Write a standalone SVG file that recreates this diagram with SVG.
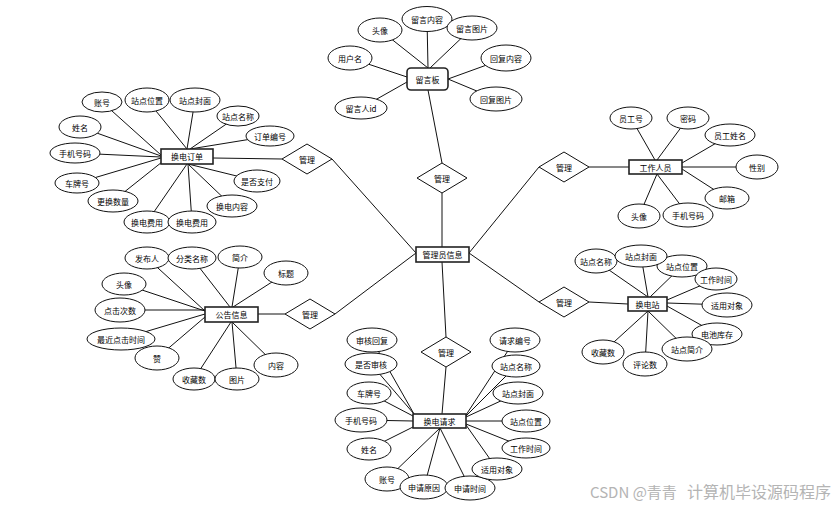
<svg xmlns="http://www.w3.org/2000/svg" width="840" height="509" viewBox="0 0 840 509">
<style>
.bg{fill:#fff}
.ln{stroke:#111;stroke-width:1;fill:none}
.e{fill:#fff;stroke:#111;stroke-width:1}
.b{fill:#fff;stroke:#222;stroke-width:1.6}
.d{fill:#fff;stroke:#111;stroke-width:1}
text{font-family:"Noto Sans CJK SC","Noto Sans",sans-serif;font-size:8px;fill:#000;text-anchor:middle;dominant-baseline:central}
.wm{font-size:15px;fill:#b4b4b4;text-anchor:start;dominant-baseline:auto}
</style>
<rect class="bg" x="0" y="0" width="840" height="509"/>
<g id="connectors" class="ln">
<line x1="442" y1="247" x2="442" y2="193"/>
<line x1="442" y1="163" x2="428" y2="90"/>
<line x1="416" y1="253" x2="332" y2="159"/>
<line x1="282" y1="159" x2="213" y2="158"/>
<line x1="469" y1="253" x2="539" y2="167"/>
<line x1="589" y1="167" x2="629" y2="167"/>
<line x1="416" y1="253" x2="335" y2="314"/>
<line x1="285" y1="314" x2="258" y2="314"/>
<line x1="469" y1="253" x2="539" y2="302"/>
<line x1="589" y1="302" x2="628" y2="304"/>
<line x1="442" y1="262" x2="446" y2="337"/>
<line x1="446" y1="367" x2="442" y2="414"/>
<line x1="380" y1="30" x2="428" y2="68"/>
<line x1="427" y1="19" x2="428" y2="68"/>
<line x1="472" y1="28" x2="430" y2="68"/>
<line x1="350" y1="58" x2="407" y2="77"/>
<line x1="361" y1="108" x2="407" y2="82"/>
<line x1="506" y1="58" x2="448" y2="79"/>
<line x1="496" y1="99" x2="448" y2="79"/>
<line x1="102" y1="102" x2="161" y2="155"/>
<line x1="147" y1="100" x2="187" y2="149"/>
<line x1="195" y1="100" x2="187" y2="149"/>
<line x1="238" y1="116" x2="190" y2="149"/>
<line x1="270" y1="136" x2="190" y2="149"/>
<line x1="80" y1="127" x2="161" y2="156"/>
<line x1="75" y1="153" x2="161" y2="157"/>
<line x1="77" y1="183" x2="161" y2="158"/>
<line x1="113" y1="201" x2="162" y2="162"/>
<line x1="257" y1="181" x2="188" y2="164"/>
<line x1="232" y1="206" x2="188" y2="164"/>
<line x1="147" y1="222" x2="187" y2="164"/>
<line x1="192" y1="222" x2="188" y2="164"/>
<line x1="631" y1="118" x2="655" y2="160"/>
<line x1="688" y1="118" x2="657" y2="160"/>
<line x1="730" y1="135" x2="682" y2="163"/>
<line x1="757" y1="167" x2="682" y2="167"/>
<line x1="727" y1="198" x2="682" y2="169"/>
<line x1="639" y1="216" x2="657" y2="174"/>
<line x1="688" y1="215" x2="657" y2="174"/>
<line x1="147" y1="258" x2="205" y2="311"/>
<line x1="192" y1="258" x2="230" y2="307"/>
<line x1="240" y1="257" x2="232" y2="307"/>
<line x1="286" y1="273" x2="233" y2="307"/>
<line x1="124" y1="284" x2="205" y2="311"/>
<line x1="120" y1="310" x2="205" y2="310"/>
<line x1="121" y1="339" x2="205" y2="314"/>
<line x1="157" y1="358" x2="205" y2="317"/>
<line x1="194" y1="379" x2="231" y2="322"/>
<line x1="237" y1="379" x2="232" y2="322"/>
<line x1="276" y1="365" x2="232" y2="322"/>
<line x1="596" y1="261" x2="648" y2="297"/>
<line x1="641" y1="256" x2="648" y2="297"/>
<line x1="682" y1="266" x2="650" y2="297"/>
<line x1="716" y1="279" x2="667" y2="300"/>
<line x1="727" y1="305" x2="667" y2="303"/>
<line x1="717" y1="334" x2="667" y2="306"/>
<line x1="687" y1="349" x2="648" y2="311"/>
<line x1="645" y1="364" x2="648" y2="311"/>
<line x1="603" y1="352" x2="648" y2="311"/>
<line x1="372" y1="340" x2="414" y2="414"/>
<line x1="371" y1="364" x2="414" y2="414"/>
<line x1="369" y1="393" x2="413" y2="416"/>
<line x1="361" y1="420" x2="413" y2="421"/>
<line x1="369" y1="449" x2="413" y2="427"/>
<line x1="387" y1="479" x2="440" y2="428"/>
<line x1="424" y1="487" x2="440" y2="428"/>
<line x1="470" y1="488" x2="440" y2="428"/>
<line x1="497" y1="469" x2="466" y2="425"/>
<line x1="526" y1="448" x2="466" y2="424"/>
<line x1="526" y1="421" x2="466" y2="421"/>
<line x1="518" y1="393" x2="466" y2="417"/>
<line x1="516" y1="366" x2="466" y2="416"/>
<line x1="515" y1="340" x2="466" y2="415"/>
</g>

<g id="rel-top"><polygon class="d" points="417,178 442,163 467,178 442,193"/><text x="442" y="178">管理</text></g>
<g id="rel-lefttop"><polygon class="d" points="282,159 307,144 332,159 307,174"/><text x="307" y="159">管理</text></g>
<g id="rel-righttop"><polygon class="d" points="539,167 564,152 589,167 564,182"/><text x="564" y="167">管理</text></g>
<g id="rel-leftbottom"><polygon class="d" points="285,314 310,299 335,314 310,329"/><text x="310" y="314">管理</text></g>
<g id="rel-rightbottom"><polygon class="d" points="539,302 564,287 589,302 564,317"/><text x="564" y="302">管理</text></g>
<g id="rel-bottom"><polygon class="d" points="421,352 446,337 471,352 446,367"/><text x="446" y="352">管理</text></g>

<g id="admin"><rect class="b" x="416" y="247" width="53" height="15"/><text x="442.5" y="254.5">管理员信息</text></g>
<g id="board"><rect class="b" x="407" y="68" width="41" height="22" rx="4"/><text x="427.5" y="79">留言板</text></g>
<g id="order"><rect class="b" x="161" y="149" width="52" height="15"/><text x="187" y="156.5">换电订单</text></g>
<g id="staff"><rect class="b" x="629" y="160" width="53" height="14"/><text x="655.5" y="167">工作人员</text></g>
<g id="notice"><rect class="b" x="205" y="307" width="53" height="15"/><text x="231.5" y="314.5">公告信息</text></g>
<g id="station"><rect class="b" x="628" y="297" width="39" height="14"/><text x="647.5" y="304">换电站</text></g>
<g id="request"><rect class="b" x="413" y="414" width="53" height="14"/><text x="439.5" y="421">换电请求</text></g>

<g id="b1"><ellipse class="e" cx="380" cy="30" rx="22" ry="12"/><text x="380" y="30">头像</text></g>
<g id="b2"><ellipse class="e" cx="427" cy="19" rx="25" ry="12.5"/><text x="427" y="19">留言内容</text></g>
<g id="b3"><ellipse class="e" cx="472" cy="28" rx="25" ry="12"/><text x="472" y="28">留言图片</text></g>
<g id="b4"><ellipse class="e" cx="350" cy="58" rx="22" ry="12"/><text x="350" y="58">用户名</text></g>
<g id="b5"><ellipse class="e" cx="361" cy="108" rx="26" ry="11"/><text x="361" y="108">留言人id</text></g>
<g id="b6"><ellipse class="e" cx="506" cy="58" rx="25" ry="13"/><text x="506" y="58">回复内容</text></g>
<g id="b7"><ellipse class="e" cx="496" cy="99" rx="26" ry="12"/><text x="496" y="99">回复图片</text></g>

<g id="o1"><ellipse class="e" cx="102" cy="102" rx="20" ry="10"/><text x="102" y="102">账号</text></g>
<g id="o3"><ellipse class="e" cx="195" cy="100" rx="25" ry="12"/><text x="195" y="100">站点封面</text></g>
<g id="o2"><ellipse class="e" cx="147" cy="100" rx="22" ry="12"/><text x="147" y="100">站点位置</text></g>
<g id="o4"><ellipse class="e" cx="238" cy="116" rx="21" ry="10"/><text x="238" y="116">站点名称</text></g>
<g id="o5"><ellipse class="e" cx="270" cy="136" rx="24" ry="10"/><text x="270" y="136">订单编号</text></g>
<g id="o6"><ellipse class="e" cx="80" cy="127" rx="21" ry="11"/><text x="80" y="127">姓名</text></g>
<g id="o7"><ellipse class="e" cx="75" cy="153" rx="25" ry="10"/><text x="75" y="153">手机号码</text></g>
<g id="o8"><ellipse class="e" cx="77" cy="183" rx="22" ry="10"/><text x="77" y="183">车牌号</text></g>
<g id="o9"><ellipse class="e" cx="113" cy="201" rx="25" ry="11"/><text x="113" y="201">更换数量</text></g>
<g id="o10"><ellipse class="e" cx="257" cy="181" rx="23" ry="11"/><text x="257" y="181">是否支付</text></g>
<g id="o11"><ellipse class="e" cx="232" cy="206" rx="25" ry="11"/><text x="232" y="206">换电内容</text></g>
<g id="o12"><ellipse class="e" cx="147" cy="222" rx="23" ry="11"/><text x="147" y="222">换电费用</text></g>
<g id="o13"><ellipse class="e" cx="192" cy="222" rx="24" ry="11"/><text x="192" y="222">换电费用</text></g>

<g id="s1"><ellipse class="e" cx="631" cy="118" rx="21" ry="11"/><text x="631" y="118">员工号</text></g>
<g id="s2"><ellipse class="e" cx="688" cy="118" rx="21" ry="11"/><text x="688" y="118">密码</text></g>
<g id="s3"><ellipse class="e" cx="730" cy="135" rx="25" ry="11"/><text x="730" y="135">员工姓名</text></g>
<g id="s4"><ellipse class="e" cx="757" cy="167" rx="21" ry="12"/><text x="757" y="167">性别</text></g>
<g id="s5"><ellipse class="e" cx="727" cy="198" rx="22" ry="11"/><text x="727" y="198">邮箱</text></g>
<g id="s6"><ellipse class="e" cx="639" cy="216" rx="21" ry="12"/><text x="639" y="216">头像</text></g>
<g id="s7"><ellipse class="e" cx="688" cy="215" rx="25" ry="12"/><text x="688" y="215">手机号码</text></g>

<g id="n1"><ellipse class="e" cx="147" cy="258" rx="22" ry="11"/><text x="147" y="258">发布人</text></g>
<g id="n2"><ellipse class="e" cx="192" cy="258" rx="24" ry="11"/><text x="192" y="258">分类名称</text></g>
<g id="n3"><ellipse class="e" cx="240" cy="257" rx="22" ry="11"/><text x="240" y="257">简介</text></g>
<g id="n4"><ellipse class="e" cx="286" cy="273" rx="22" ry="12"/><text x="286" y="273">标题</text></g>
<g id="n5"><ellipse class="e" cx="124" cy="284" rx="22" ry="11"/><text x="124" y="284">头像</text></g>
<g id="n6"><ellipse class="e" cx="120" cy="310" rx="25" ry="12"/><text x="120" y="310">点击次数</text></g>
<g id="n7"><ellipse class="e" cx="121" cy="339" rx="34" ry="11"/><text x="121" y="339">最近点击时间</text></g>
<g id="n8"><ellipse class="e" cx="157" cy="358" rx="22" ry="12"/><text x="157" y="358">赞</text></g>
<g id="n9"><ellipse class="e" cx="194" cy="379" rx="21" ry="11"/><text x="194" y="379">收藏数</text></g>
<g id="n10"><ellipse class="e" cx="237" cy="379" rx="22" ry="11"/><text x="237" y="379">图片</text></g>
<g id="n11"><ellipse class="e" cx="276" cy="365" rx="22" ry="12"/><text x="276" y="365">内容</text></g>

<g id="t1"><ellipse class="e" cx="596" cy="261" rx="21" ry="12"/><text x="596" y="261">站点名称</text></g>
<g id="t3"><ellipse class="e" cx="682" cy="266" rx="25" ry="11"/><text x="682" y="266">站点位置</text></g>
<g id="t2"><ellipse class="e" cx="641" cy="256" rx="26" ry="11"/><text x="641" y="256">站点封面</text></g>
<g id="t4"><ellipse class="e" cx="716" cy="279" rx="21" ry="11"/><text x="716" y="279">工作时间</text></g>
<g id="t5"><ellipse class="e" cx="727" cy="305" rx="25" ry="12"/><text x="727" y="305">适用对象</text></g>
<g id="t6"><ellipse class="e" cx="717" cy="334" rx="25" ry="11"/><text x="717" y="334">电池库存</text></g>
<g id="t7"><ellipse class="e" cx="687" cy="349" rx="25" ry="12"/><text x="687" y="349">站点简介</text></g>
<g id="t8"><ellipse class="e" cx="645" cy="364" rx="22" ry="12"/><text x="645" y="364">评论数</text></g>
<g id="t9"><ellipse class="e" cx="603" cy="352" rx="21" ry="12"/><text x="603" y="352">收藏数</text></g>

<g id="r1"><ellipse class="e" cx="372" cy="340" rx="25" ry="12"/><text x="372" y="340">审核回复</text></g>
<g id="r2"><ellipse class="e" cx="371" cy="364" rx="26" ry="11"/><text x="371" y="364">是否审核</text></g>
<g id="r3"><ellipse class="e" cx="369" cy="393" rx="22" ry="11"/><text x="369" y="393">车牌号</text></g>
<g id="r4"><ellipse class="e" cx="361" cy="420" rx="26" ry="12"/><text x="361" y="420">手机号码</text></g>
<g id="r5"><ellipse class="e" cx="369" cy="449" rx="22" ry="11"/><text x="369" y="449">姓名</text></g>
<g id="r6"><ellipse class="e" cx="387" cy="479" rx="22" ry="12"/><text x="387" y="479">账号</text></g>
<g id="r7"><ellipse class="e" cx="424" cy="487" rx="24" ry="12"/><text x="424" y="487">申请原因</text></g>
<g id="r8"><ellipse class="e" cx="470" cy="488" rx="25" ry="12"/><text x="470" y="488">申请时间</text></g>
<g id="r9"><ellipse class="e" cx="497" cy="469" rx="25" ry="11"/><text x="497" y="469">适用对象</text></g>
<g id="r10"><ellipse class="e" cx="526" cy="448" rx="24" ry="10"/><text x="526" y="448">工作时间</text></g>
<g id="r11"><ellipse class="e" cx="526" cy="421" rx="24" ry="11"/><text x="526" y="421">站点位置</text></g>
<g id="r12"><ellipse class="e" cx="518" cy="393" rx="25" ry="11"/><text x="518" y="393">站点封面</text></g>
<g id="r13"><ellipse class="e" cx="516" cy="366" rx="24" ry="11"/><text x="516" y="366">站点名称</text></g>
<g id="r14"><ellipse class="e" cx="515" cy="340" rx="25" ry="12"/><text x="515" y="340">请求编号</text></g>

<text class="wm" x="590" y="498">CSDN @青青</text>
<text class="wm" x="687" y="498" style="font-size:16px">计算机毕设源码程序</text>
</svg>
